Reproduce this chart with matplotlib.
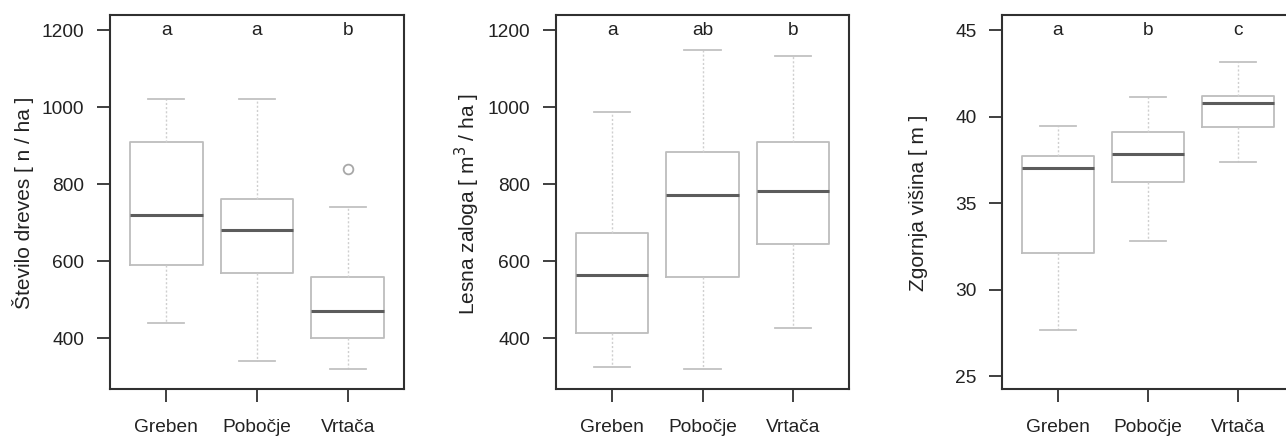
import matplotlib
matplotlib.use("Agg")
import matplotlib.pyplot as plt

plt.rcParams['font.family'] = ['Liberation Sans', 'DejaVu Sans']

lokacije = ['Greben', 'Pobočje', 'Vrtača']

# število dreves [n/ha]: spodnji brk, Q1, mediana, Q3, zgornji brk
n_lo = [440, 340, 320]
n_q1 = [591, 570, 400]
n_med = [720, 680, 470]
n_q3 = [910, 760, 560]
n_hi = [1020, 1020, 740]
n_out = [[], [], [840]]
n_crke = ['a', 'a', 'b']

# lesna zaloga [m3/ha]
v_lo = [324, 320, 426]
v_q1 = [414, 558, 645]
v_med = [563, 771, 782]
v_q3 = [672, 884, 910]
v_hi = [986, 1148, 1133]
v_out = [[], [], []]
v_crke = ['a', 'ab', 'b']

# zgornja višina [m]
h_lo = [27.67, 32.8, 37.4]
h_q1 = [32.1, 36.24, 39.42]
h_med = [37.02, 37.84, 40.81]
h_q3 = [37.73, 39.08, 41.21]
h_hi = [39.46, 41.14, 43.14]
h_out = [[], [], []]
h_crke = ['a', 'b', 'c']

FS = 13.8


def statistike(lo, q1, med, q3, hi, out):
    st = []
    for i in range(len(lo)):
        st.append({'whislo': lo[i], 'q1': q1[i], 'med': med[i], 'q3': q3[i],
                   'whishi': hi[i], 'fliers': out[i], 'label': lokacije[i]})
    return st


def narisi(ax, st, crke, ylim, yticks, ycrke):
    ax.bxp(st, positions=[1, 2, 3], widths=0.8, showfliers=True,
           boxprops=dict(color='#bdbdbd', linewidth=1.3),
           medianprops=dict(color='#5c5c5c', linewidth=2.2),
           whiskerprops=dict(color='#cfcfcf', linewidth=1.0, linestyle=(0, (1.5, 1.5))),
           capprops=dict(color='#c2c2c2', linewidth=1.3),
           capwidths=0.4,
           flierprops=dict(marker='o', markerfacecolor='none', markeredgecolor='#a8a8a8',
                           markersize=7, markeredgewidth=1.3))
    ax.set_xlim(0.38, 3.62)
    ax.set_ylim(*ylim)
    ax.set_yticks(yticks)
    ax.set_xticks([1, 2, 3])
    ax.set_xticklabels(lokacije)
    for i, c in enumerate(crke):
        ax.text(i + 1, ycrke, c, ha='center', va='center', fontsize=FS, color='#222222')
    for s in ax.spines.values():
        s.set_linewidth(1.5)
        s.set_color('#303030')
    ax.tick_params(axis='both', direction='out', length=9.5, width=1.3, color='#303030',
                   labelsize=FS, labelcolor='#222222')
    ax.tick_params(axis='x', pad=12)
    ax.tick_params(axis='y', pad=9)


fig = plt.figure(figsize=(12.86, 4.36), dpi=100)
W, H = 1286.0, 436.0
bot = (H - 389) / H
vis = 374 / H
ax1 = fig.add_axes([110 / W, bot, 294 / W, vis])
ax2 = fig.add_axes([556 / W, bot, 293 / W, vis])
ax3 = fig.add_axes([1002 / W, bot, 292 / W, vis])

narisi(ax1, statistike(n_lo, n_q1, n_med, n_q3, n_hi, n_out), n_crke,
       (268, 1239), [400, 600, 800, 1000, 1200], 1200)
narisi(ax2, statistike(v_lo, v_q1, v_med, v_q3, v_hi, v_out), v_crke,
       (268, 1239), [400, 600, 800, 1000, 1200], 1200)
narisi(ax3, statistike(h_lo, h_q1, h_med, h_q3, h_hi, h_out), h_crke,
       (24.25, 45.87), [25, 30, 35, 40, 45], 45)

FL = 15
fig.text(23 / W, 1 - 203 / H, 'Število dreves [ n / ha ]', rotation=90,
         ha='center', va='center', fontsize=FL, color='#222222')
fig.text(467 / W, 1 - 204 / H, 'Lesna zaloga [ m$^3$ / ha ]', rotation=90,
         ha='center', va='center', fontsize=FL, color='#222222')
fig.text(918 / W, 1 - 203 / H, 'Zgornja višina [ m ]', rotation=90,
         ha='center', va='center', fontsize=FL, color='#222222')

fig.savefig('out.png', dpi=100)
